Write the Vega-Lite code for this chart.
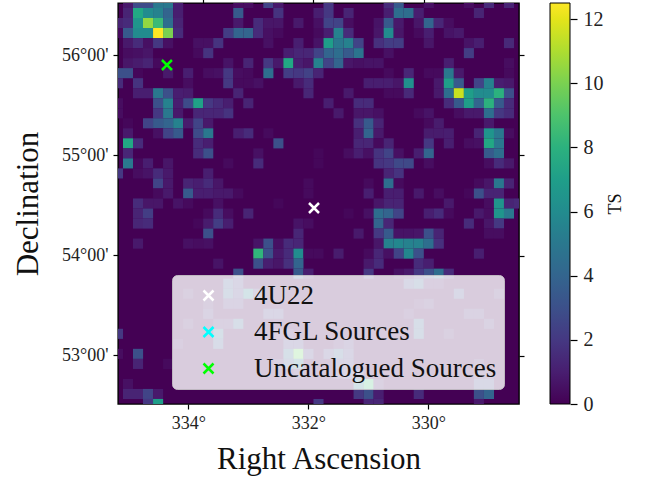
{"$schema":"https://vega.github.io/schema/vega-lite/v6.json","width":401,"height":401,"autosize":{"type":"none"},"padding":{"left":118,"top":3,"right":129,"bottom":75},"background":"white","view":{"fill":"#440154","stroke":"black","strokeWidth":1.4},"config":{"font":"Liberation Serif"},"layer":[{"data":{"values":[
{"c":1,"r":0,"ts":0.8},{"c":2,"r":0,"ts":2.8},{"c":3,"r":0,"ts":2.8},{"c":4,"r":0,"ts":5},{"c":5,"r":0,"ts":5},{"c":6,"r":0,"ts":1},{"c":12,"r":0,"ts":0.4},{"c":13,"r":0,"ts":0.4},{"c":15,"r":0,"ts":2.5},{"c":16,"r":0,"ts":0.8},{"c":21,"r":0,"ts":2},{"c":27,"r":0,"ts":1.5},{"c":28,"r":0,"ts":3.5},{"c":31,"r":0,"ts":0.5},{"c":35,"r":0,"ts":0.4},{"c":37,"r":0,"ts":1.5},{"c":39,"r":0,"ts":1.2},
{"c":1,"r":1,"ts":1.2},{"c":2,"r":1,"ts":7.5},{"c":3,"r":1,"ts":6},{"c":4,"r":1,"ts":5.5},{"c":5,"r":1,"ts":4},{"c":6,"r":1,"ts":1},{"c":12,"r":1,"ts":3.5},{"c":16,"r":1,"ts":1.8},{"c":20,"r":1,"ts":1},{"c":21,"r":1,"ts":2},{"c":23,"r":1,"ts":1.2},{"c":27,"r":1,"ts":1},{"c":28,"r":1,"ts":4.5},{"c":29,"r":1,"ts":4.5},{"c":30,"r":1,"ts":1},{"c":36,"r":1,"ts":1.2},
{"c":0,"r":2,"ts":1.2},{"c":1,"r":2,"ts":1.5},{"c":2,"r":2,"ts":6.5},{"c":3,"r":2,"ts":10.5},{"c":4,"r":2,"ts":8.5},{"c":5,"r":2,"ts":4.5},{"c":6,"r":2,"ts":1.2},{"c":12,"r":2,"ts":0.8},{"c":14,"r":2,"ts":1.5},{"c":15,"r":2,"ts":0.7},{"c":16,"r":2,"ts":0.7},{"c":18,"r":2,"ts":0.8},{"c":20,"r":2,"ts":0.5},{"c":21,"r":2,"ts":2.5},{"c":22,"r":2,"ts":2.5},{"c":23,"r":2,"ts":0.4},{"c":26,"r":2,"ts":0.6},{"c":27,"r":2,"ts":3.5},{"c":28,"r":2,"ts":0.8},{"c":30,"r":2,"ts":0.7},{"c":31,"r":2,"ts":4},{"c":32,"r":2,"ts":1.3},{"c":33,"r":2,"ts":0.4},
{"c":0,"r":3,"ts":0.3},{"c":1,"r":3,"ts":3.5},{"c":2,"r":3,"ts":6},{"c":3,"r":3,"ts":6},{"c":4,"r":3,"ts":12.5},{"c":5,"r":3,"ts":10},{"c":6,"r":3,"ts":1.5},{"c":11,"r":3,"ts":2.2},{"c":12,"r":3,"ts":4},{"c":13,"r":3,"ts":4},{"c":14,"r":3,"ts":1.5},{"c":15,"r":3,"ts":0.5},{"c":16,"r":3,"ts":0.3},{"c":20,"r":3,"ts":0.3},{"c":21,"r":3,"ts":1},{"c":22,"r":3,"ts":5.5},{"c":23,"r":3,"ts":1.5},{"c":26,"r":3,"ts":0.7},{"c":27,"r":3,"ts":6},{"c":28,"r":3,"ts":0.7},{"c":30,"r":3,"ts":0.3},{"c":31,"r":3,"ts":1},{"c":33,"r":3,"ts":0.6},{"c":34,"r":3,"ts":0.8},
{"c":1,"r":4,"ts":0.8},{"c":2,"r":4,"ts":1.5},{"c":3,"r":4,"ts":0.5},{"c":4,"r":4,"ts":2},{"c":5,"r":4,"ts":0.5},{"c":8,"r":4,"ts":0.5},{"c":9,"r":4,"ts":0.5},{"c":10,"r":4,"ts":1.8},{"c":15,"r":4,"ts":0.5},{"c":18,"r":4,"ts":1},{"c":20,"r":4,"ts":0.6},{"c":21,"r":4,"ts":7},{"c":22,"r":4,"ts":5},{"c":23,"r":4,"ts":5.5},{"c":24,"r":4,"ts":2.5},{"c":26,"r":4,"ts":1.7},{"c":27,"r":4,"ts":2.2},{"c":28,"r":4,"ts":2.2},{"c":31,"r":4,"ts":0.7},{"c":35,"r":4,"ts":0.6},{"c":36,"r":4,"ts":1},{"c":39,"r":4,"ts":1.4},
{"c":1,"r":5,"ts":0.4},{"c":2,"r":5,"ts":0.5},{"c":3,"r":5,"ts":0.7},{"c":8,"r":5,"ts":0.3},{"c":9,"r":5,"ts":1.8},{"c":17,"r":5,"ts":1},{"c":18,"r":5,"ts":1.3},{"c":19,"r":5,"ts":1.3},{"c":20,"r":5,"ts":2.5},{"c":21,"r":5,"ts":4},{"c":22,"r":5,"ts":4.5},{"c":23,"r":5,"ts":3.5},{"c":24,"r":5,"ts":4.8},{"c":27,"r":5,"ts":0.5},{"c":35,"r":5,"ts":2.2},
{"c":1,"r":6,"ts":0.7},{"c":2,"r":6,"ts":0.9},{"c":3,"r":6,"ts":1.2},{"c":4,"r":6,"ts":0.3},{"c":11,"r":6,"ts":0.6},{"c":13,"r":6,"ts":1.2},{"c":15,"r":6,"ts":2},{"c":16,"r":6,"ts":0.8},{"c":17,"r":6,"ts":7.5},{"c":18,"r":6,"ts":1},{"c":19,"r":6,"ts":0.7},{"c":20,"r":6,"ts":5.5},{"c":21,"r":6,"ts":2.5},{"c":22,"r":6,"ts":4},{"c":23,"r":6,"ts":0.7},{"c":24,"r":6,"ts":0.5},{"c":25,"r":6,"ts":0.6},{"c":26,"r":6,"ts":0.6},{"c":33,"r":6,"ts":1},{"c":39,"r":6,"ts":0.4},
{"c":0,"r":7,"ts":3},{"c":1,"r":7,"ts":3},{"c":2,"r":7,"ts":0.2},{"c":5,"r":7,"ts":0.8},{"c":7,"r":7,"ts":1},{"c":9,"r":7,"ts":0.4},{"c":10,"r":7,"ts":0.5},{"c":11,"r":7,"ts":2},{"c":12,"r":7,"ts":0.4},{"c":13,"r":7,"ts":0.3},{"c":15,"r":7,"ts":4.5},{"c":17,"r":7,"ts":2.2},{"c":18,"r":7,"ts":2},{"c":19,"r":7,"ts":2.4},{"c":20,"r":7,"ts":1.2},{"c":27,"r":7,"ts":0.3},{"c":29,"r":7,"ts":1.3},{"c":31,"r":7,"ts":0.3},{"c":32,"r":7,"ts":0.3},{"c":33,"r":7,"ts":5},{"c":34,"r":7,"ts":0.8},{"c":39,"r":7,"ts":0.3},
{"c":0,"r":8,"ts":1.5},{"c":2,"r":8,"ts":1.8},{"c":7,"r":8,"ts":0.4},{"c":11,"r":8,"ts":2},{"c":12,"r":8,"ts":0.3},{"c":13,"r":8,"ts":0.3},{"c":14,"r":8,"ts":0.5},{"c":18,"r":8,"ts":0.8},{"c":19,"r":8,"ts":1.5},{"c":25,"r":8,"ts":1},{"c":26,"r":8,"ts":1},{"c":27,"r":8,"ts":1},{"c":28,"r":8,"ts":0.7},{"c":29,"r":8,"ts":6.2},{"c":32,"r":8,"ts":0.8},{"c":33,"r":8,"ts":7},{"c":34,"r":8,"ts":3.5},{"c":36,"r":8,"ts":2.5},{"c":37,"r":8,"ts":5.5},{"c":38,"r":8,"ts":1},{"c":39,"r":8,"ts":0.8},
{"c":2,"r":9,"ts":1},{"c":3,"r":9,"ts":1},{"c":4,"r":9,"ts":5},{"c":5,"r":9,"ts":3},{"c":6,"r":9,"ts":1},{"c":7,"r":9,"ts":0.9},{"c":12,"r":9,"ts":1.2},{"c":19,"r":9,"ts":1.3},{"c":23,"r":9,"ts":0.8},{"c":27,"r":9,"ts":0.3},{"c":28,"r":9,"ts":0.3},{"c":29,"r":9,"ts":1.4},{"c":32,"r":9,"ts":0.8},{"c":33,"r":9,"ts":4.5},{"c":34,"r":9,"ts":11.5},{"c":35,"r":9,"ts":7},{"c":36,"r":9,"ts":6},{"c":37,"r":9,"ts":6},{"c":38,"r":9,"ts":8},{"c":39,"r":9,"ts":3},
{"c":0,"r":10,"ts":0.4},{"c":4,"r":10,"ts":3},{"c":5,"r":10,"ts":5.5},{"c":6,"r":10,"ts":1},{"c":7,"r":10,"ts":2.8},{"c":8,"r":10,"ts":7.2},{"c":9,"r":10,"ts":2},{"c":10,"r":10,"ts":1.5},{"c":11,"r":10,"ts":1},{"c":13,"r":10,"ts":1.2},{"c":21,"r":10,"ts":1},{"c":24,"r":10,"ts":1.5},{"c":25,"r":10,"ts":1.5},{"c":33,"r":10,"ts":1.5},{"c":34,"r":10,"ts":3.5},{"c":35,"r":10,"ts":7},{"c":36,"r":10,"ts":4},{"c":37,"r":10,"ts":8},{"c":38,"r":10,"ts":3.5},{"c":39,"r":10,"ts":1.5},
{"c":0,"r":11,"ts":0.4},{"c":4,"r":11,"ts":2},{"c":5,"r":11,"ts":5},{"c":6,"r":11,"ts":0.8},{"c":8,"r":11,"ts":1.3},{"c":9,"r":11,"ts":1.3},{"c":10,"r":11,"ts":1.3},{"c":11,"r":11,"ts":1.8},{"c":22,"r":11,"ts":0.8},{"c":24,"r":11,"ts":0.7},{"c":25,"r":11,"ts":0.7},{"c":26,"r":11,"ts":0.5},{"c":30,"r":11,"ts":0.3},{"c":31,"r":11,"ts":0.6},{"c":34,"r":11,"ts":0.4},{"c":35,"r":11,"ts":0.8},{"c":36,"r":11,"ts":0.8},{"c":37,"r":11,"ts":4.5},{"c":38,"r":11,"ts":2},{"c":39,"r":11,"ts":1.5},
{"c":1,"r":12,"ts":0.2},{"c":3,"r":12,"ts":2.5},{"c":4,"r":12,"ts":3.5},{"c":5,"r":12,"ts":4},{"c":6,"r":12,"ts":5.5},{"c":7,"r":12,"ts":0.9},{"c":8,"r":12,"ts":2.5},{"c":9,"r":12,"ts":0.8},{"c":24,"r":12,"ts":1.7},{"c":25,"r":12,"ts":3.5},{"c":26,"r":12,"ts":1.2},{"c":31,"r":12,"ts":0.3},{"c":32,"r":12,"ts":0.9},{"c":37,"r":12,"ts":0.8},
{"c":1,"r":13,"ts":0.8},{"c":4,"r":13,"ts":0.5},{"c":5,"r":13,"ts":2.5},{"c":6,"r":13,"ts":3.5},{"c":8,"r":13,"ts":2.8},{"c":9,"r":13,"ts":5},{"c":12,"r":13,"ts":1},{"c":13,"r":13,"ts":1.5},{"c":15,"r":13,"ts":0.3},{"c":24,"r":13,"ts":1},{"c":25,"r":13,"ts":4},{"c":26,"r":13,"ts":0.8},{"c":31,"r":13,"ts":0.9},{"c":32,"r":13,"ts":0.9},{"c":33,"r":13,"ts":1},{"c":36,"r":13,"ts":1.2},{"c":37,"r":13,"ts":6.5},{"c":38,"r":13,"ts":5},{"c":39,"r":13,"ts":0.4},
{"c":1,"r":14,"ts":7.5},{"c":2,"r":14,"ts":1.5},{"c":8,"r":14,"ts":1.5},{"c":9,"r":14,"ts":1},{"c":16,"r":14,"ts":3},{"c":24,"r":14,"ts":1.3},{"c":25,"r":14,"ts":1.3},{"c":26,"r":14,"ts":0.3},{"c":27,"r":14,"ts":1.2},{"c":31,"r":14,"ts":2},{"c":33,"r":14,"ts":1},{"c":35,"r":14,"ts":0.4},{"c":36,"r":14,"ts":0.5},{"c":37,"r":14,"ts":7.5},{"c":38,"r":14,"ts":5},
{"c":1,"r":15,"ts":1.3},{"c":8,"r":15,"ts":1.5},{"c":9,"r":15,"ts":3},{"c":14,"r":15,"ts":0.5},{"c":20,"r":15,"ts":0.2},{"c":23,"r":15,"ts":0.4},{"c":24,"r":15,"ts":1},{"c":25,"r":15,"ts":0.5},{"c":26,"r":15,"ts":1.8},{"c":27,"r":15,"ts":2.5},{"c":28,"r":15,"ts":0.5},{"c":30,"r":15,"ts":1},{"c":31,"r":15,"ts":4},{"c":37,"r":15,"ts":3.5},{"c":38,"r":15,"ts":4.5},
{"c":1,"r":16,"ts":5},{"c":2,"r":16,"ts":0.3},{"c":3,"r":16,"ts":1},{"c":5,"r":16,"ts":0.7},{"c":11,"r":16,"ts":0.3},{"c":14,"r":16,"ts":1.5},{"c":20,"r":16,"ts":0.2},{"c":26,"r":16,"ts":1.8},{"c":27,"r":16,"ts":2},{"c":28,"r":16,"ts":2.7},{"c":29,"r":16,"ts":2.7},{"c":31,"r":16,"ts":0.4},{"c":37,"r":16,"ts":0.4},{"c":38,"r":16,"ts":1.5},{"c":39,"r":16,"ts":0.8},
{"c":0,"r":17,"ts":2},{"c":2,"r":17,"ts":0.4},{"c":3,"r":17,"ts":0.6},{"c":4,"r":17,"ts":1.5},{"c":5,"r":17,"ts":0.8},{"c":9,"r":17,"ts":1},{"c":27,"r":17,"ts":1.2},{"c":28,"r":17,"ts":1.8},
{"c":4,"r":18,"ts":2.5},{"c":5,"r":18,"ts":0.8},{"c":7,"r":18,"ts":1.2},{"c":8,"r":18,"ts":1},{"c":9,"r":18,"ts":1.5},{"c":10,"r":18,"ts":0.7},{"c":19,"r":18,"ts":0.3},{"c":25,"r":18,"ts":0.3},{"c":27,"r":18,"ts":4.5},{"c":28,"r":18,"ts":0.3},{"c":36,"r":18,"ts":0.3},{"c":37,"r":18,"ts":0.7},{"c":38,"r":18,"ts":5},{"c":39,"r":18,"ts":1.2},
{"c":4,"r":19,"ts":0.3},{"c":5,"r":19,"ts":0.8},{"c":7,"r":19,"ts":3.5},{"c":8,"r":19,"ts":1},{"c":9,"r":19,"ts":1},{"c":10,"r":19,"ts":0.8},{"c":11,"r":19,"ts":0.8},{"c":12,"r":19,"ts":0.3},{"c":19,"r":19,"ts":0.3},{"c":25,"r":19,"ts":1},{"c":27,"r":19,"ts":1},{"c":28,"r":19,"ts":1},{"c":30,"r":19,"ts":0.8},{"c":32,"r":19,"ts":0.4},{"c":35,"r":19,"ts":0.2},{"c":36,"r":19,"ts":3},{"c":37,"r":19,"ts":1.2},{"c":38,"r":19,"ts":1.2},
{"c":2,"r":20,"ts":1.5},{"c":3,"r":20,"ts":0.7},{"c":4,"r":20,"ts":0.7},{"c":6,"r":20,"ts":0.6},{"c":7,"r":20,"ts":0.3},{"c":10,"r":20,"ts":0.5},{"c":16,"r":20,"ts":0.2},{"c":26,"r":20,"ts":0.7},{"c":27,"r":20,"ts":1.2},{"c":28,"r":20,"ts":1.2},{"c":33,"r":20,"ts":0.8},{"c":37,"r":20,"ts":0.4},{"c":38,"r":20,"ts":6.5},{"c":39,"r":20,"ts":1.2},{"c":40,"r":20,"ts":1.4},
{"c":2,"r":21,"ts":1.2},{"c":3,"r":21,"ts":2.2},{"c":9,"r":21,"ts":0.3},{"c":10,"r":21,"ts":1.5},{"c":11,"r":21,"ts":0.4},{"c":13,"r":21,"ts":1.2},{"c":23,"r":21,"ts":0.2},{"c":25,"r":21,"ts":0.5},{"c":26,"r":21,"ts":4.5},{"c":27,"r":21,"ts":4},{"c":28,"r":21,"ts":2.5},{"c":31,"r":21,"ts":1},{"c":32,"r":21,"ts":1.5},{"c":33,"r":21,"ts":0.3},{"c":36,"r":21,"ts":0.8},{"c":37,"r":21,"ts":0.4},{"c":38,"r":21,"ts":6.5},{"c":39,"r":21,"ts":5},
{"c":2,"r":22,"ts":1.3},{"c":3,"r":22,"ts":1.5},{"c":8,"r":22,"ts":0.2},{"c":9,"r":22,"ts":0.9},{"c":10,"r":22,"ts":2.2},{"c":11,"r":22,"ts":1},{"c":18,"r":22,"ts":0.6},{"c":19,"r":22,"ts":0.4},{"c":26,"r":22,"ts":4},{"c":27,"r":22,"ts":1.3},{"c":35,"r":22,"ts":1.5},{"c":37,"r":22,"ts":0.7},{"c":38,"r":22,"ts":2},
{"c":9,"r":23,"ts":3},{"c":18,"r":23,"ts":1.3},{"c":24,"r":23,"ts":0.8},{"c":26,"r":23,"ts":2},{"c":27,"r":23,"ts":3.5},{"c":28,"r":23,"ts":0.6},{"c":29,"r":23,"ts":0.6},{"c":30,"r":23,"ts":0.7},{"c":31,"r":23,"ts":3},{"c":32,"r":23,"ts":1.2},{"c":37,"r":23,"ts":0.4},{"c":38,"r":23,"ts":0.4},
{"c":2,"r":24,"ts":0.8},{"c":7,"r":24,"ts":0.5},{"c":8,"r":24,"ts":0.4},{"c":9,"r":24,"ts":0.5},{"c":14,"r":24,"ts":0.6},{"c":15,"r":24,"ts":3},{"c":16,"r":24,"ts":0.5},{"c":17,"r":24,"ts":1.5},{"c":18,"r":24,"ts":1.3},{"c":26,"r":24,"ts":0.7},{"c":27,"r":24,"ts":5.5},{"c":28,"r":24,"ts":5.8},{"c":29,"r":24,"ts":5.5},{"c":30,"r":24,"ts":5.5},{"c":31,"r":24,"ts":4.5},{"c":32,"r":24,"ts":1.7},
{"c":14,"r":25,"ts":8.2},{"c":15,"r":25,"ts":3},{"c":16,"r":25,"ts":0.8},{"c":17,"r":25,"ts":1.5},{"c":18,"r":25,"ts":6},{"c":19,"r":25,"ts":0.3},{"c":20,"r":25,"ts":0.3},{"c":22,"r":25,"ts":0.9},{"c":25,"r":25,"ts":0.3},{"c":26,"r":25,"ts":1.3},{"c":27,"r":25,"ts":0.5},{"c":28,"r":25,"ts":2.5},{"c":29,"r":25,"ts":5.8},{"c":30,"r":25,"ts":3},{"c":36,"r":25,"ts":1},
{"c":10,"r":26,"ts":0.6},{"c":14,"r":26,"ts":3},{"c":15,"r":26,"ts":1},{"c":16,"r":26,"ts":0.7},{"c":17,"r":26,"ts":1.7},{"c":18,"r":26,"ts":4},{"c":25,"r":26,"ts":0.8},{"c":26,"r":26,"ts":1.5},{"c":30,"r":26,"ts":1.5},{"c":31,"r":26,"ts":1},
{"c":12,"r":27,"ts":3},{"c":18,"r":27,"ts":3.5},{"c":19,"r":27,"ts":1},{"c":25,"r":27,"ts":2},{"c":28,"r":27,"ts":0.5},{"c":29,"r":27,"ts":0.8},{"c":30,"r":27,"ts":2},{"c":31,"r":27,"ts":3},{"c":32,"r":27,"ts":4.5},{"c":33,"r":27,"ts":1.5},
{"c":11,"r":28,"ts":3},{"c":12,"r":28,"ts":2},{"c":29,"r":28,"ts":2.5},{"c":30,"r":28,"ts":3.5},{"c":31,"r":28,"ts":0.7},{"c":32,"r":28,"ts":0.7},
{"c":7,"r":29,"ts":0.8},{"c":11,"r":29,"ts":3.5},{"c":12,"r":29,"ts":2},{"c":13,"r":29,"ts":5},{"c":14,"r":29,"ts":2},{"c":34,"r":29,"ts":2.5},{"c":38,"r":29,"ts":1},
{"c":9,"r":30,"ts":0.8},{"c":11,"r":30,"ts":1.5},{"c":12,"r":30,"ts":1.5},{"c":30,"r":30,"ts":0.5},{"c":31,"r":30,"ts":1},
{"c":9,"r":31,"ts":1.5},{"c":15,"r":31,"ts":2},{"c":16,"r":31,"ts":2},{"c":29,"r":31,"ts":0.7},{"c":35,"r":31,"ts":1.3},{"c":36,"r":31,"ts":1.3},
{"c":7,"r":32,"ts":0.8},{"c":10,"r":32,"ts":1},{"c":11,"r":32,"ts":1},{"c":12,"r":32,"ts":3.5},{"c":30,"r":32,"ts":3.5},{"c":37,"r":32,"ts":1.2},
{"c":0,"r":33,"ts":2},{"c":10,"r":33,"ts":4},{"c":16,"r":33,"ts":1},{"c":17,"r":33,"ts":1},{"c":30,"r":33,"ts":3.5},{"c":33,"r":33,"ts":0.8},
{"c":6,"r":34,"ts":0.7},{"c":10,"r":34,"ts":3},{"c":17,"r":34,"ts":2},{"c":18,"r":34,"ts":2},{"c":22,"r":34,"ts":0.7},{"c":23,"r":34,"ts":1.5},
{"c":0,"r":35,"ts":0.4},{"c":2,"r":35,"ts":3},{"c":17,"r":35,"ts":4},{"c":18,"r":35,"ts":9.5},{"c":19,"r":35,"ts":2},{"c":21,"r":35,"ts":2},{"c":22,"r":35,"ts":3.5},{"c":23,"r":35,"ts":2},
{"c":2,"r":36,"ts":1.2},{"c":5,"r":36,"ts":0.3},{"c":16,"r":36,"ts":1},{"c":17,"r":36,"ts":3},{"c":18,"r":36,"ts":5},{"c":22,"r":36,"ts":2},{"c":23,"r":36,"ts":2},{"c":36,"r":36,"ts":1},
{"c":18,"r":37,"ts":1},{"c":22,"r":37,"ts":1},{"c":23,"r":37,"ts":2},{"c":24,"r":37,"ts":2},{"c":36,"r":37,"ts":1},{"c":37,"r":37,"ts":1},
{"c":1,"r":38,"ts":0.5},{"c":24,"r":38,"ts":5},{"c":25,"r":38,"ts":8.5},{"c":26,"r":38,"ts":1},{"c":36,"r":38,"ts":2.5},{"c":37,"r":38,"ts":2.5},
{"c":1,"r":39,"ts":1.2},{"c":2,"r":39,"ts":1.2},{"c":3,"r":39,"ts":2.5},{"c":4,"r":39,"ts":0.8},{"c":24,"r":39,"ts":2},{"c":25,"r":39,"ts":3},{"c":26,"r":39,"ts":1},{"c":30,"r":39,"ts":1.5},{"c":36,"r":39,"ts":3},{"c":37,"r":39,"ts":4},
{"c":3,"r":40,"ts":2},{"c":4,"r":40,"ts":7},{"c":20,"r":40,"ts":2},{"c":25,"r":40,"ts":1.3},{"c":26,"r":40,"ts":1.3},{"c":36,"r":40,"ts":0.8}
]},"mark":{"type":"rect","width":10.1,"height":10.1,"clip":true,"strokeWidth":0},"encoding":{"x":{"field":"c","type":"quantitative","scale":{"domain":[0,40],"nice":false,"zero":false},"axis":{"orient":"top","values":[8.5,19.5,30.5],"labels":false,"title":null,"grid":false,"domain":false,"tickColor":"black","tickSize":4,"tickWidth":1.2}},"y":{"field":"r","type":"quantitative","scale":{"domain":[0,40],"nice":false,"zero":false,"reverse":true},"axis":{"orient":"right","values":[5.2,15.2,25.2,35.2],"labels":false,"title":null,"grid":false,"domain":false,"tickColor":"black","tickSize":5,"tickWidth":1.2}},"color":{"field":"ts","type":"quantitative","scale":{"scheme":"viridis","domain":[0,12.5]},"legend":{"orient":"none","legendX":432,"legendY":0,"gradientLength":401,"gradientThickness":20,"gradientStrokeColor":"black","gradientStrokeWidth":1,"title":null,"labelExpr":"''","values":[0,12.5]}}}},
{"data":{"values":[{"ra":331.905,"dec":54.47,"name":"4U22"},{"ra":334.355,"dec":55.9,"name":"Uncatalogued Sources"}]},"mark":{"type":"point","shape":"M-1,-1L1,1M-1,1L1,-1","size":100,"filled":false,"strokeWidth":2.5,"opacity":1},"encoding":{"x":{"field":"ra","type":"quantitative","scale":{"domain":[335.17,328.49],"nice":false,"zero":false},"axis":{"orient":"bottom","values":[334,332,330],"labelExpr":"datum.value+'°'","title":"Right Ascension","titleFontSize":31,"titleFontWeight":"normal","titleFont":"Liberation Serif","titleColor":"#111","titlePadding":12,"labelFont":"Liberation Serif","labelFontSize":18,"labelColor":"#222","labelPadding":5,"tickColor":"black","tickSize":5,"tickWidth":1.2,"grid":false,"domain":false}},"y":{"field":"dec","type":"quantitative","scale":{"domain":[52.51,56.52],"nice":false,"zero":false},"axis":{"orient":"left","values":[53,54,55,56],"labelExpr":"datum.value+'°00\\''","title":"Declination","titleFontSize":31,"titleFontWeight":"normal","titleFont":"Liberation Serif","titleColor":"#111","titlePadding":17,"labelFont":"Liberation Serif","labelFontSize":18,"labelColor":"#222","labelPadding":5,"tickColor":"black","tickSize":5,"tickWidth":1.2,"grid":false,"domain":false}},"stroke":{"field":"name","type":"nominal","scale":{"domain":["4U22","4FGL Sources","Uncatalogued Sources"],"range":["#ffffff","#00ffff","#00ff00"]},"legend":{"orient":"none","legendX":54,"legendY":272,"title":null,"symbolType":"M-1,-1L1,1M-1,1L1,-1","symbolSize":100,"symbolStrokeWidth":2.5,"symbolOpacity":1,"fillColor":"rgba(255,255,255,0.8)","strokeColor":"rgba(204,204,204,0.8)","cornerRadius":5,"padding":7,"rowPadding":8.5,"labelFont":"Liberation Serif","labelFontSize":27,"labelColor":"#111","labelOffset":32,"labelLimit":300,"symbolOffset":16}}}},
{"data":{"values":[{"ts":0},{"ts":12}]},"mark":{"type":"point","opacity":0},"encoding":{"y":{"field":"ts","type":"quantitative","scale":{"domain":[0,12.5],"nice":false,"zero":false},"axis":{"orient":"right","offset":51,"values":[0,2,4,6,8,10,12],"title":"TS","titleFontSize":18,"titleFontWeight":"normal","titleFont":"Liberation Serif","titleColor":"#111","titleAngle":-90,"titlePadding":21,"labelFont":"Liberation Serif","labelFontSize":20,"labelColor":"#222","labelPadding":6,"tickColor":"black","tickSize":7,"tickWidth":1.2,"grid":false,"domain":false}}}}
],"resolve":{"scale":{"x":"independent","y":"independent","color":"independent","stroke":"independent"},"axis":{"x":"independent","y":"independent"},"legend":{"color":"independent","stroke":"independent"}}}
